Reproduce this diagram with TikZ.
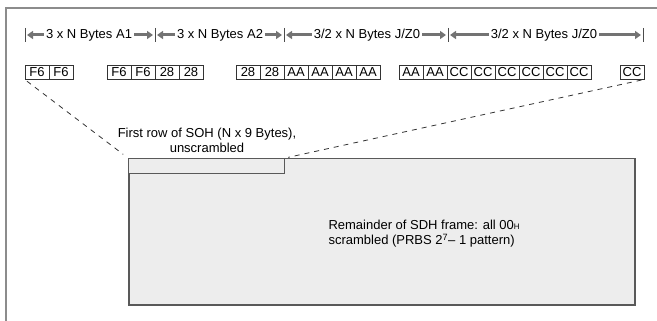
\documentclass[tikz,border=0pt]{standalone}
\usepackage{fontspec}
\setmainfont{Liberation Sans}
\usetikzlibrary{arrows.meta,positioning}
\colorlet{framegray}{black!45}
\colorlet{spangray}{black!55}
\colorlet{sohfill}{black!7}
\colorlet{sohline}{black!65}
\tikzset{
  byte/.style = {draw=black!80, line width=0.8pt, minimum width=24pt,
    minimum height=14pt, inner sep=0pt},
  hdr/.style = {inner sep=2pt},
  span/.style = {spangray, line width=3pt, -{Triangle[length=6pt,width=8pt]}},
  divider/.style = {black!70, line width=0.8pt},
  cut/.style = {black!80, dash pattern=on 5pt off 5pt, line width=0.8pt},
  area/.style = {draw=sohline, fill=sohfill, inner sep=0pt, anchor=north west}
}

\begin{document}
\begin{tikzpicture}[x=1pt,y=-1pt,font=\fontsize{13}{15}\selectfont]
  \useasboundingbox (0,0) rectangle (657,321);
  % frame
  \draw[framegray,line width=1.5pt] (657,8) -- (6,8) -- (6,321);
  % dividers
  \foreach \x [count=\i from 0] in {25,155,284,448,643} {
    \draw[divider] (\x,28) -- (\x,42);
    \coordinate (d\i) at (\x,35);
  }
  % header labels
  \node[hdr] (lA1) at (89,35) {3 x N Bytes A1};
  \node[hdr] (lA2) at (220,35) {3 x N Bytes A2};
  \node[hdr] (lJ1) at (367,35) {3/2 x N Bytes J/Z0};
  \node[hdr] (lJ2) at (544,35) {3/2 x N Bytes J/Z0};
  % spans
  \draw[span] (lA1.west) -- ([xshift=2pt]d0);
  \draw[span] (lA1.east) -- ([xshift=-2pt]d1);
  \draw[span] (lA2.west) -- ([xshift=2pt]d1);
  \draw[span] (lA2.east) -- ([xshift=-2pt]d2);
  \draw[span] (lJ1.west) -- ([xshift=2pt]d2);
  \draw[span] (lJ1.east) -- ([xshift=-2pt]d3);
  \draw[span] (lJ2.west) -- ([xshift=2pt]d3);
  \draw[span] (lJ2.east) -- ([xshift=-2pt]d4);
  % bytes
  \foreach \t [count=\i] in {F6,F6}
    \node[byte] (ba\i) at ({13+24*\i},72) {\t};
  \foreach \t [count=\i] in {F6,F6,28,28}
    \node[byte] (bb\i) at ({95+24*\i},72) {\t};
  \foreach \t [count=\i] in {28,28,AA,AA,AA,AA}
    \node[byte] (bc\i) at ({224+24*\i},72) {\t};
  \foreach \t [count=\i] in {AA,AA,CC,CC,CC,CC,CC,CC}
    \node[byte] (bd\i) at ({387+24*\i},72) {\t};
  \node[byte] (be) at (632,72) {CC};
  % frame areas
  \node[area, line width=1.5pt, minimum width=506pt, minimum height=146pt]
    (sdh) at (128,158) {};
  \node[area, line width=1.2pt, minimum width=156pt, minimum height=15pt]
    (row1) at (sdh.north west) {};
  % texts
  \node[align=center] (cap) at (207,140) {First row of SOH (N x 9 Bytes),\\unscrambled};
  \node[align=left, anchor=west] (rest) at (325,234)
    {Remainder of SDH frame: all 00{\fontsize{8}{9}\selectfont H}\\
     scrambled (PRBS 2\textsuperscript{7}– 1 pattern)};
  % cut lines
  \draw[cut, shorten <=3pt, shorten >=6pt] (ba1.south west) -- (row1.north west);
  \draw[cut, shorten <=3pt, shorten >=3pt] (be.south east) -- (row1.north east);
\end{tikzpicture}
\end{document}
